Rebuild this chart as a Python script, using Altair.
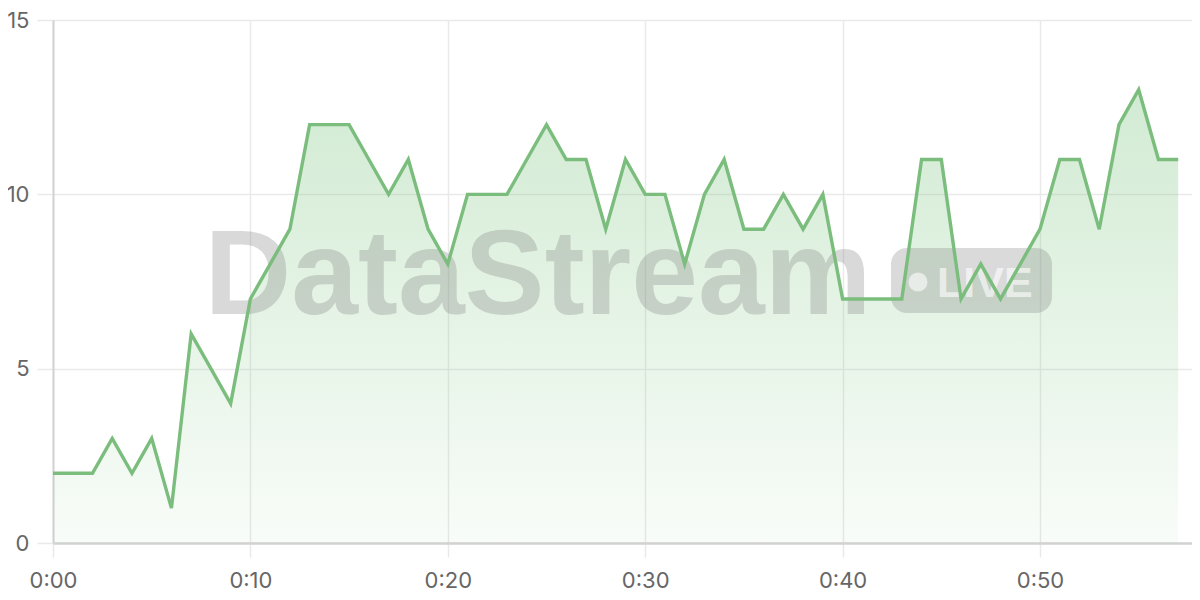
import altair as alt
import pandas as pd

# elapsed time (minutes) and readings
values = [2, 2, 2, 3, 2, 3, 1, 6, 5, 4,
          7, 8, 9, 12, 12, 12, 11, 10, 11, 9,
          8, 10, 10, 10, 11, 12, 11, 11, 9, 11,
          10, 10, 8, 10, 11, 9, 9, 10, 9, 10,
          7, 7, 7, 7, 11, 11, 7, 8, 7, 8,
          9, 11, 11, 9, 12, 13, 11, 11]
minutes = list(range(len(values)))
x_ticks = [0, 10, 20, 30, 40, 50]
y_ticks = [0, 5, 10, 15]

df = pd.DataFrame({"t": minutes, "v": values})

W, H = 1139, 523
LINE = "#7bbd7d"
FONT = "Inter"
WM_FONT = "Liberation Sans"

x_enc = alt.X("t:Q", scale=alt.Scale(domain=[0, 57.7], nice=False, zero=False),
              axis=alt.Axis(values=x_ticks, title=None,
                            labelExpr="'0:' + (datum.value < 10 ? '0' : '') + datum.value",
                            labelFlush=False, labelOverlap=False,
                            grid=True, gridColor="#e9e9e9", gridWidth=1.5,
                            tickColor="#e9e9e9", tickWidth=1.5, tickSize=14,
                            domainColor="#d2d2d2", domainWidth=2.5,
                            labelFont=FONT, labelFontSize=22, labelColor="#666666",
                            labelPadding=13.5))
y_enc = alt.Y("v:Q", scale=alt.Scale(domain=[0, 15], nice=False),
              axis=alt.Axis(values=y_ticks, title=None,
                            labelFlush=False, labelOverlap=False,
                            grid=True, gridColor="#e9e9e9", gridWidth=1.5,
                            tickColor="#e9e9e9", tickWidth=1.5, tickSize=16,
                            domainColor="#d2d2d2", domainWidth=2,
                            labelFont=FONT, labelFontSize=22, labelColor="#666666",
                            labelPadding=8))

base = alt.Chart(df)

area = base.mark_area(
    color=alt.Gradient(
        gradient="linear",
        stops=[alt.GradientStop(color="rgba(129,199,132,0.36)", offset=0),
               alt.GradientStop(color="rgba(129,199,132,0.05)", offset=1)],
        x1=1, x2=1, y1=0, y2=1),
    interpolate="linear",
).encode(x=x_enc, y=y_enc)

wm_df = pd.DataFrame({"label": ["DataStream"]})
wm_text = alt.Chart(wm_df).mark_text(
    font=WM_FONT, fontWeight="bold", fontSize=120, color="#7a7a7a", opacity=0.28,
    align="center", baseline="alphabetic",
).encode(x=alt.value(538 - 53), y=alt.value(314 - 20), text="label:N")

badge = alt.Chart(wm_df).mark_rect(
    color="#7a7a7a", opacity=0.28, cornerRadius=16,
).encode(x=alt.value(891 - 53), x2=alt.value(1052 - 53),
         y=alt.value(248 - 20), y2=alt.value(313 - 20))

dot = alt.Chart(wm_df).mark_point(
    shape="circle", filled=True, color="#ffffff", opacity=0.6, size=360,
).encode(x=alt.value(918 - 53), y=alt.value(282 - 20))

live_df = pd.DataFrame({"label": ["LIVE"]})
live = alt.Chart(live_df).mark_text(
    font=WM_FONT, fontWeight="bold", fontSize=43, color="#ffffff", opacity=0.6,
    align="left", baseline="alphabetic",
).encode(x=alt.value(937 - 53), y=alt.value(297 - 20), text="label:N")

line = base.mark_line(color=LINE, strokeWidth=3.4, interpolate="linear").encode(x=x_enc, y=y_enc)

chart = alt.layer(area, wm_text, badge, dot, live, line).properties(
    width=W, height=H,
    autosize=alt.AutoSizeParams(type="none"),
    padding={"left": 45, "top": 12, "right": 0, "bottom": 49},
).configure_view(stroke=None).configure(background="#ffffff")

chart.save("out.html", embed_options={"renderer": "svg", "actions": False})
